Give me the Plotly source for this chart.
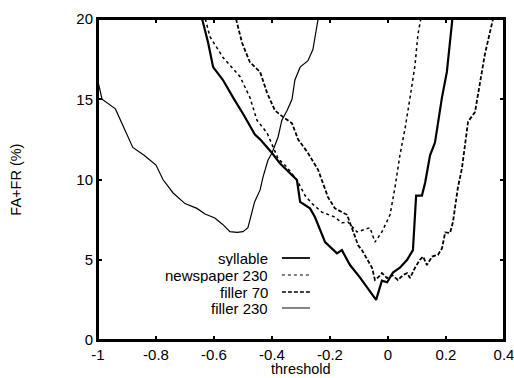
import plotly.graph_objects as go

# ---- data ----
syllable_x = [-0.641, -0.62, -0.603, -0.569, -0.534, -0.50, -0.459, -0.441, -0.40, -0.372,
              -0.314, -0.303, -0.269, -0.252, -0.217, -0.176, -0.159, -0.131, -0.097, -0.072,
              -0.041, -0.021, -0.003, 0.017, 0.041, 0.066, 0.086, 0.097, 0.117, 0.128,
              0.145, 0.162, 0.186, 0.203, 0.222]
syllable_y = [20, 18.5, 17.0, 16.2, 15.1, 14.1, 12.8, 12.5, 11.65, 11.0,
              9.97, 8.6, 8.2, 7.66, 6.1, 5.4, 5.6, 4.67, 3.9, 3.3,
              2.5, 3.7, 3.6, 4.2, 4.5, 5.0, 5.6, 9.0, 9.0, 9.8,
              11.5, 12.3, 15.1, 16.7, 20]

newspaper_x = [-0.63, -0.614, -0.569, -0.51, -0.476, -0.452, -0.417, -0.397, -0.379, -0.35,
               -0.328, -0.314, -0.286, -0.262, -0.228, -0.183, -0.159, -0.138, -0.107, -0.086,
               -0.062, -0.045, -0.021, 0.007, 0.024, 0.041, 0.059, 0.076, 0.093, 0.103, 0.113]
newspaper_y = [20, 18.9, 17.6, 16.4, 15.1, 13.7, 12.9, 12.0, 11.3, 10.8,
               10.3, 9.97, 9.0, 8.5, 7.97, 7.66, 7.3, 7.35, 6.73, 6.85,
               7.0, 6.1, 6.73, 7.8, 9.5, 11.5, 13.2, 15.1, 17.1, 19.0, 20]

filler70_x = [-0.524, -0.503, -0.476, -0.441, -0.417, -0.39, -0.362, -0.331, -0.31, -0.276,
              -0.241, -0.207, -0.183, -0.141, -0.131, -0.103, -0.09, -0.055, -0.045, -0.034,
              -0.021, -0.003, 0.014, 0.034, 0.052, 0.066, 0.076, 0.093, 0.11, 0.121,
              0.134, 0.152, 0.172, 0.186, 0.197, 0.214, 0.224, 0.241, 0.255, 0.266,
              0.276, 0.30, 0.317, 0.334, 0.362]
filler70_y = [20, 18.5, 17.3, 16.7, 15.4, 14.3, 13.9, 13.5, 12.5, 11.65,
              10.6, 8.9, 8.2, 7.8, 7.3, 5.9, 5.6, 4.5, 3.74, 3.9,
              4.17, 3.86, 4.05, 3.74, 4.05, 4.17, 3.86, 4.5, 5.0, 5.2,
              4.67, 5.2, 5.3, 5.7, 6.7, 6.67, 7.35, 9.5, 10.7, 12.3,
              13.6, 14.2, 16.1, 17.8, 20]

filler230_x = [-1.0, -0.986, -0.94, -0.88, -0.84, -0.80, -0.776, -0.741, -0.70, -0.659,
               -0.631, -0.597, -0.57, -0.545, -0.52, -0.50, -0.483, -0.476, -0.46, -0.441,
               -0.431, -0.414, -0.40, -0.379, -0.366, -0.348, -0.331, -0.321, -0.303, -0.276,
               -0.259, -0.241]
filler230_y = [16.1, 15.0, 14.4, 12.0, 11.5, 10.9, 10.0, 9.16, 8.5, 8.2,
               7.85, 7.6, 7.2, 6.75, 6.7, 6.75, 7.0, 7.5, 8.6, 9.35,
               10.15, 11.2, 11.65, 12.65, 13.7, 14.3, 15.0, 16.2, 17.0, 17.4,
               18.1, 20]

series_names = ["syllable", "newspaper 230", "filler 70", "filler 230"]
x_ticks = [-1, -0.8, -0.6, -0.4, -0.2, 0, 0.2, 0.4]
x_tick_text = ["-1", "-0.8", "-0.6", "-0.4", "-0.2", "0", "0.2", "0.4"]
y_ticks = [0, 5, 10, 15, 20]
x_title = "threshold"
y_title = "FA+FR (%)"

FONT = "Liberation Sans, Arial, Helvetica, sans-serif"
FS = 15

styles = [
    dict(color="black", width=2.2, dash="solid"),
    dict(color="black", width=1.5, dash="dot"),
    dict(color="black", width=1.8, dash="4px,2px"),
    dict(color="black", width=1.2, dash="solid"),
]
data = [(syllable_x, syllable_y), (newspaper_x, newspaper_y),
        (filler70_x, filler70_y), (filler230_x, filler230_y)]

fig = go.Figure()
for name, (xs, ys), st in zip(series_names, data, styles):
    fig.add_trace(go.Scatter(x=xs, y=ys, mode="lines", name=name, line=st,
                             showlegend=False))

# legend drawn like the original (text right-aligned, sample to the right)
rows_y = [0.2555, 0.2025, 0.1495, 0.0997]
for name, st, yy in zip(series_names, styles, rows_y):
    fig.add_annotation(x=0.424, y=yy, xref="paper", yref="paper", text=name,
                       showarrow=False, xanchor="right", yanchor="middle", height=16,
                       font=dict(family=FONT, size=FS, color="black"))
    fig.add_shape(type="line", xref="paper", yref="paper", x0=0.453, x1=0.522,
                  y0=yy, y1=yy, line=dict(color="black", width=st["width"] * 0.8, dash=st["dash"]))

# plot frame
fig.add_shape(type="rect", xref="paper", yref="paper", x0=0, x1=1, y0=0, y1=1,
              line=dict(color="black", width=2), layer="above")

# axis titles
fig.add_annotation(x=0.5, y=-0.1184, xref="paper", yref="paper", text=x_title,
                   showarrow=False, xanchor="center", yanchor="bottom", height=15,
                   font=dict(family=FONT, size=14.5, color="black"))
fig.add_annotation(x=-0.204, y=0.5, xref="paper", yref="paper", text=y_title,
                   showarrow=False, xanchor="center", yanchor="middle", textangle=-90,
                   font=dict(family=FONT, size=14.5, color="black"))

axis_common = dict(
    showline=True, linecolor="black", linewidth=2, mirror="ticks",
    ticks="inside", ticklen=4, tickwidth=2, tickcolor="black",
    showgrid=False, zeroline=False, automargin=False,
    ticklabeloverflow="allow",
    tickfont=dict(family=FONT, size=FS, color="black"),
)

fig.update_xaxes(range=[-1, 0.4], tickvals=x_ticks, ticktext=x_tick_text, **axis_common)
fig.update_yaxes(range=[0, 20], tickvals=y_ticks, **axis_common)

fig.update_layout(
    width=514, height=378,
    margin=dict(l=98, r=10, t=19, b=38),
    plot_bgcolor="white", paper_bgcolor="white",
    font=dict(family=FONT, color="black"),
)

# remove the browser's default 8px body margin so the figure fills the window
fig.write_html(
    "out.html",
    config={"displayModeBar": False},
    post_script="document.body.style.margin='0';document.body.style.overflow='hidden';",
)
